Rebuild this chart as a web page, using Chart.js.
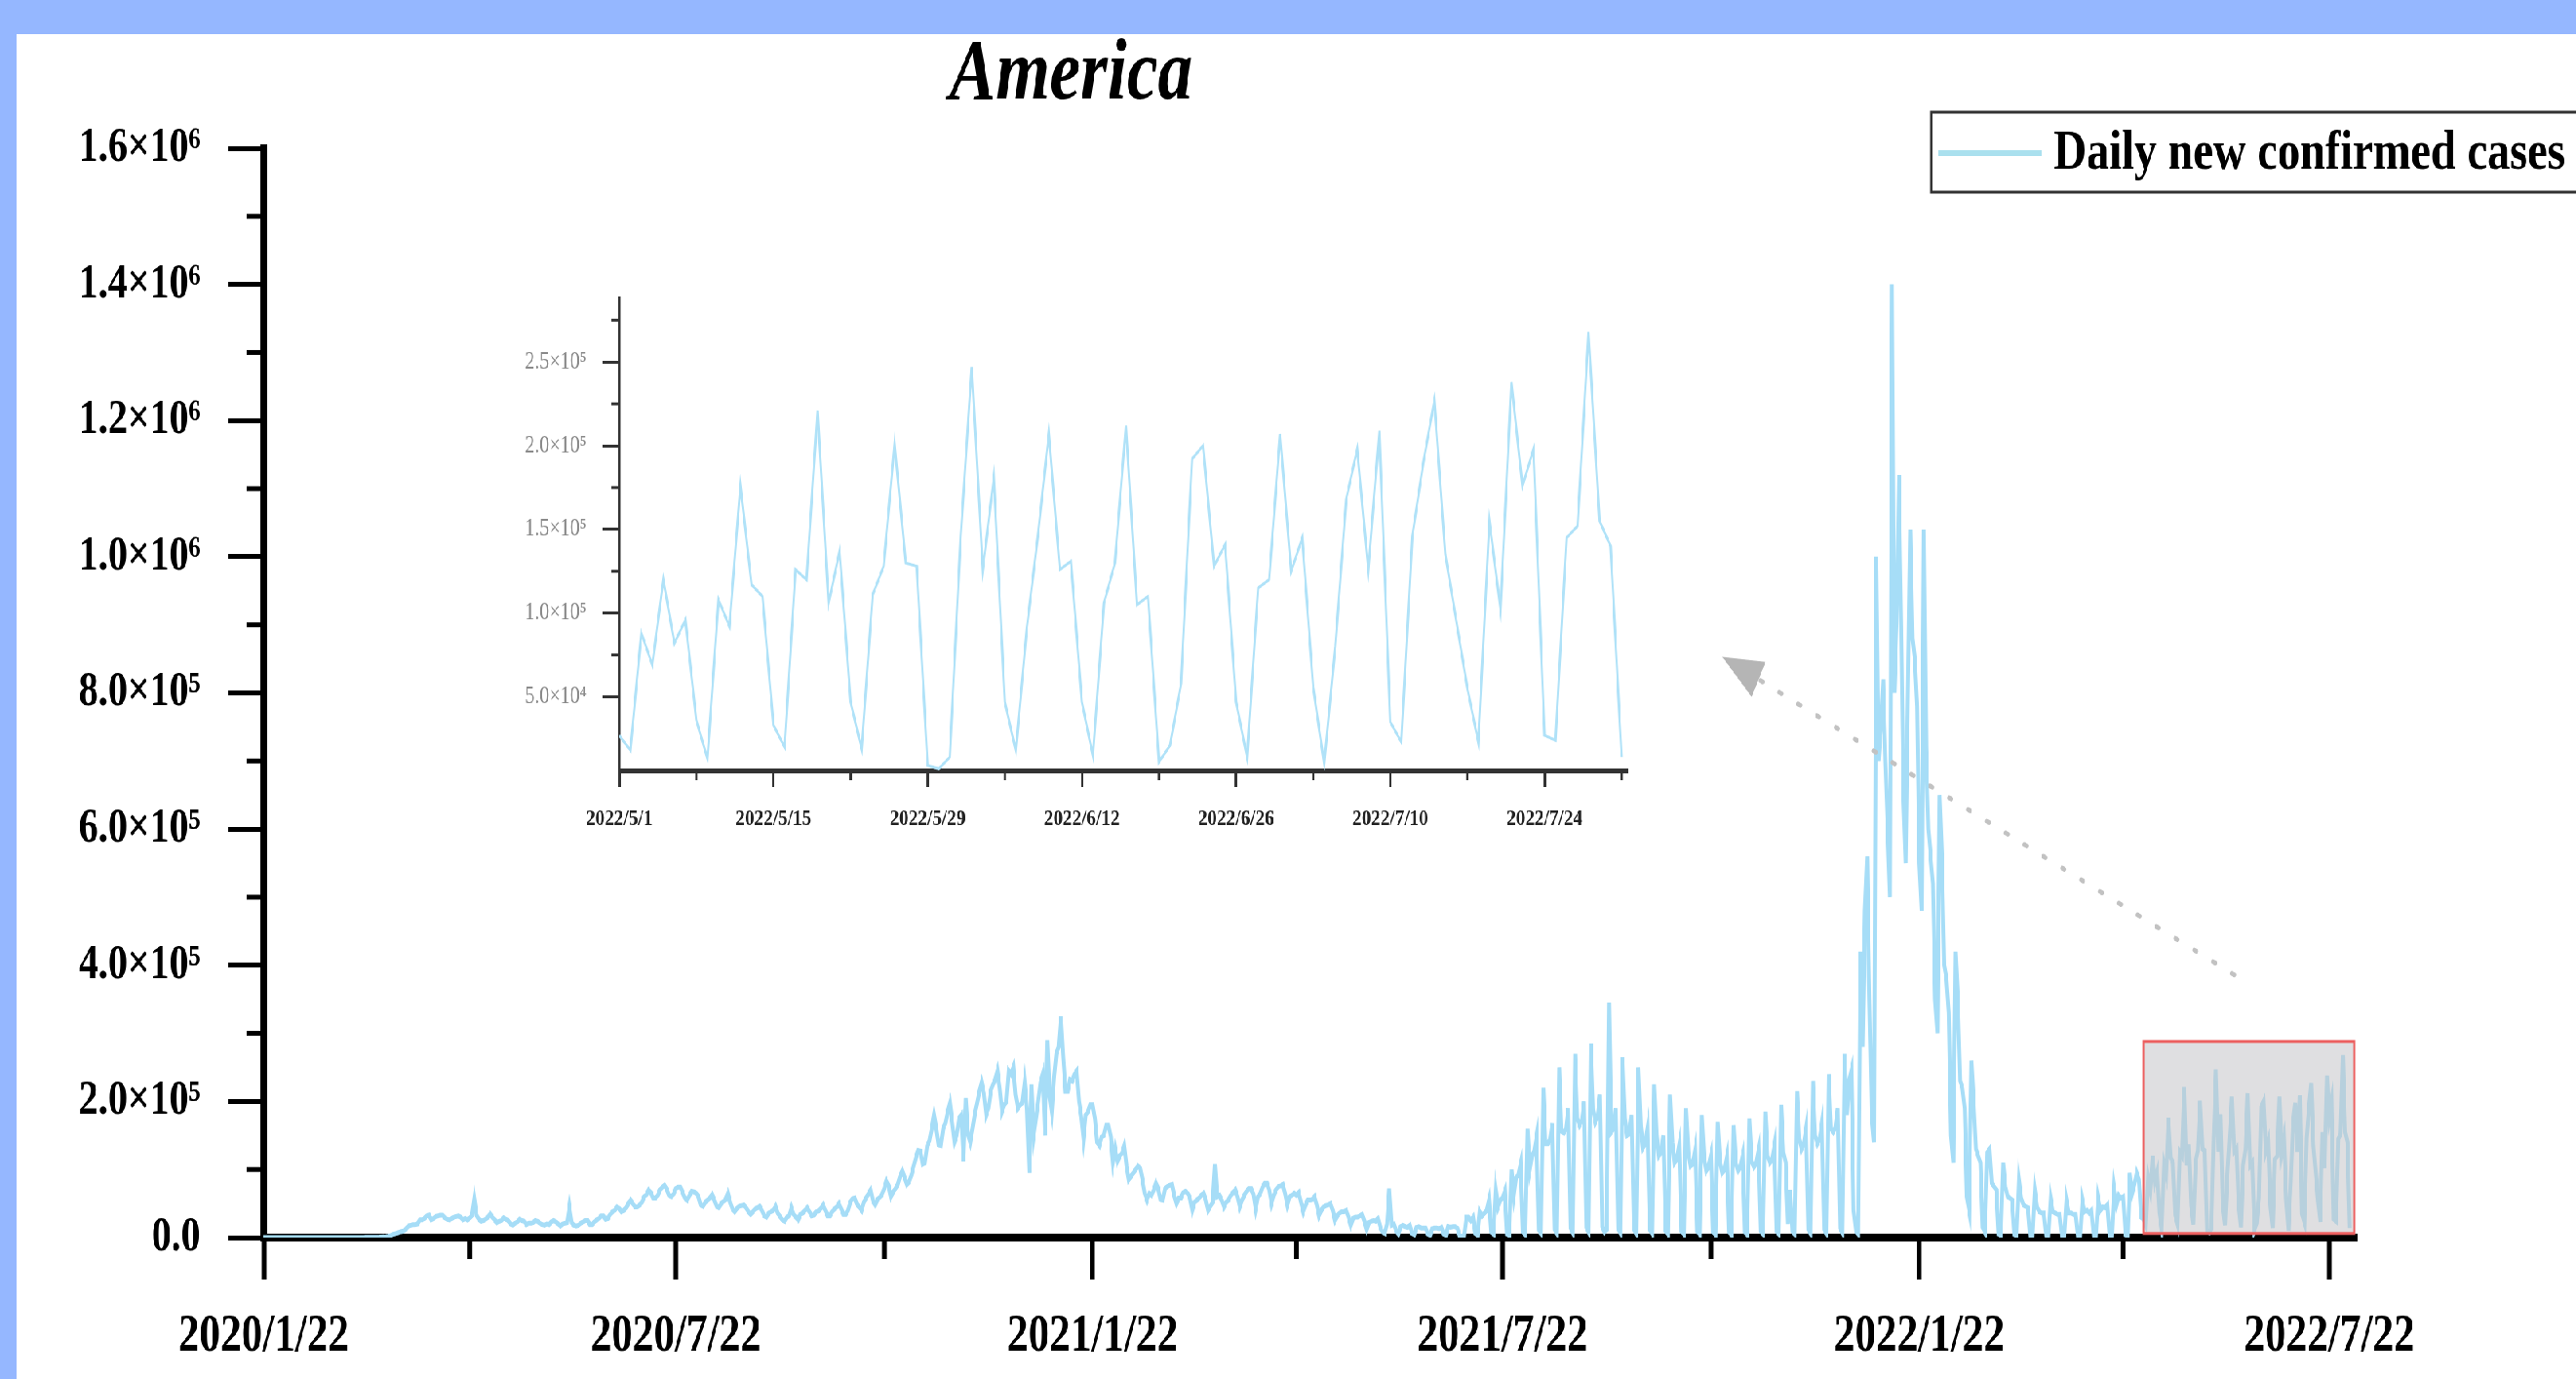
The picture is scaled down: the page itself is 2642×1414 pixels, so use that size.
<!DOCTYPE html>
<html>
<head>
<meta charset="utf-8">
<title>America - daily new confirmed cases</title>
<script src="https://cdn.jsdelivr.net/npm/chart.js@4.4.1/dist/chart.umd.min.js"></script>
<style>
  html, body { margin: 0; padding: 0; }
  body { width: 2642px; height: 1414px; position: relative; overflow: hidden; background: #95b7ff; }
  #paper { position: absolute; left: 17px; top: 35px; right: 0; bottom: 0; background: #fff; }
  /* the original figure is squeezed sideways, so draw wider and scale back */
  #stage { position: absolute; left: 0; top: 0; width: 3303px; height: 1414px; transform: scaleX(0.8); transform-origin: 0 0; }
  #stage canvas { position: absolute; }
</style>
</head>
<body>
<div id="paper"></div>
<div id="stage">
  <canvas id="grafico_america" width="3303" height="1414" style="left:0;top:0;width:3303px;height:1414px"></canvas>
  <canvas id="grafico_zoom" width="1500" height="620" style="left:600px;top:270px;width:1500px;height:620px"></canvas>
</div>
<script>
/* daily new confirmed cases (thousands), one row per week, 2020/1/22 .. 2022/4/30 */
const casesToApril = [
  0, 0, 0, 0, 0, 0, 0,            // 2020/1/22
  0, 0, 0, 0, 0, 0, 0,
  0, 0, 0, 0, 0, 0, 0,
  0, 0, 0, 0, 0, 0, 0,
  0, 0, 0, 0, 0, 0, 0,
  0, 0, 0, 0, 0, 0, 0.1,          // 2020/2/26
  0.1, 0.1, 0.1, 0.2, 0.2, 0.2, 0.3,
  0.4, 0.5, 0.6, 0.8, 0.9, 1.2, 1.7,
  2.5, 4.5, 5.5, 6.5, 8, 9, 10,   // 2020/3/18
  13, 17, 18, 19, 19, 20, 26,
  26, 28, 32, 33, 26, 28, 31,     // 2020/4/1
  32, 33, 33, 29, 27, 26, 28,
  30, 31, 32, 30, 26, 28, 26,
  29, 33, 57, 33, 27, 24, 25,
  27, 30, 35, 30, 26, 22, 24,     // 2020/4/29
  25, 29, 27, 25, 20, 18, 21,
  23, 27, 25, 24, 19, 21, 21,
  22, 25, 24, 21, 19, 18, 20,
  19, 23, 25, 23, 20, 17, 20,     // 2020/5/27
  21, 22, 45, 22, 18, 17, 18,
  21, 23, 25, 25, 19, 19, 23,
  26, 28, 32, 32, 27, 28, 34,
  38, 40, 45, 43, 38, 40, 44,     // 2020/6/24
  50, 55, 50, 45, 45, 48, 52,
  60, 63, 70, 66, 58, 58, 62,
  70, 74, 77, 71, 62, 60, 64,
  72, 74, 74, 66, 58, 55, 62,     // 2020/7/22
  68, 67, 65, 60, 48, 46, 52,
  55, 58, 63, 55, 46, 44, 50,
  53, 56, 65, 52, 42, 38, 43,
  46, 47, 48, 44, 38, 34, 38,     // 2020/8/19
  42, 44, 46, 40, 32, 30, 36,
  38, 40, 46, 36, 31, 26, 24,
  30, 32, 44, 34, 30, 26, 34,
  36, 40, 44, 38, 32, 33, 38,     // 2020/9/16
  39, 43, 48, 40, 32, 32, 38,
  42, 45, 50, 42, 34, 34, 40,
  52, 57, 58, 49, 45, 40, 52,
  58, 64, 70, 54, 48, 56, 59,     // 2020/10/14
  63, 72, 83, 76, 60, 67, 72,
  78, 90, 98, 88, 78, 82, 92,
  105, 118, 128, 127, 108, 110, 135,
  142, 160, 180, 160, 136, 135, 160,   // 2020/11/11
  168, 185, 198, 170, 140, 150, 175,
  180, 112, 205, 152, 140, 160, 182,
  198, 215, 228, 212, 180, 190, 215,
  225, 232, 245, 220, 185, 195, 200,   // 2020/12/9
  245, 240, 250, 210, 190, 195, 198,
  228, 190, 95, 225, 150, 175, 200,
  228, 240, 150, 290, 210, 185, 235,
  270, 280, 325, 265, 215, 215, 232,   // 2021/1/6
  230, 240, 245, 200, 178, 145, 180,
  185, 195, 195, 175, 140, 135, 148,
  150, 165, 165, 148, 110, 130, 112,
  120, 124, 135, 105, 85, 90, 95,      // 2021/2/3
  100, 105, 102, 85, 65, 55, 65,
  62, 70, 80, 72, 56, 55, 72,
  75, 77, 78, 62, 50, 58, 58,
  66, 68, 65, 58, 40, 52, 55,          // 2021/3/3
  58, 62, 65, 55, 40, 46, 52,
  108, 60, 62, 55, 45, 52, 55,
  62, 66, 70, 60, 45, 55, 62,
  68, 72, 72, 64, 42, 60, 64,          // 2021/3/31
  74, 80, 80, 70, 50, 62, 70,
  75, 76, 78, 65, 48, 60, 62,
  65, 62, 66, 52, 38, 48, 55,
  55, 56, 60, 48, 32, 40, 45,          // 2021/4/28
  47, 48, 50, 40, 25, 32, 36,
  38, 38, 40, 30, 18, 28, 30,
  30, 32, 34, 24, 12, 22, 24,
  25, 24, 28, 15, 8, 6, 20,            // 2021/5/26
  72, 18, 20, 10, 5, 16, 18,
  16, 15, 18, 6, 4, 15, 16,
  14, 14, 14, 5, 3, 13, 14,
  14, 13, 15, 5, 3, 16, 15,            // 2021/6/23
  16, 16, 14, 3, 2, 2, 30,
  30, 25, 30, 6, 3, 38, 32,
  36, 40, 55, 8, 5, 70, 45,
  55, 58, 68, 5, 3, 100, 62,           // 2021/7/21
  88, 92, 108, 8, 4, 160, 100,
  120, 127, 148, 11, 6, 220, 138,
  138, 144, 168, 12, 6, 250, 156,
  154, 160, 190, 14, 7, 270, 175,      // 2021/8/18
  165, 172, 200, 15, 8, 285, 188,
  170, 178, 210, 16, 8, 12, 345,
  155, 160, 190, 14, 7, 265, 175,
  150, 152, 180, 13, 6, 250, 165,      // 2021/9/15
  132, 138, 160, 12, 6, 225, 150,
  120, 125, 150, 10, 5, 210, 140,
  110, 115, 135, 9, 5, 190, 125,
  105, 108, 128, 9, 5, 180, 118,       // 2021/10/13
  98, 104, 120, 8, 4, 170, 112,
  95, 100, 118, 8, 4, 165, 110,
  98, 104, 120, 8, 4, 175, 112,
  104, 110, 128, 9, 5, 185, 120,       // 2021/11/10
  110, 115, 135, 9, 5, 195, 125,
  110, 20, 70, 9, 5, 215, 145,
  130, 138, 160, 12, 6, 230, 150,
  138, 145, 168, 12, 6, 240, 160,      // 2021/12/8
  155, 162, 190, 14, 7, 270, 180,
  230, 245, 40, 10, 5, 420, 280,
  480, 560, 350, 180, 140, 1000, 700,
  750, 820, 700, 600, 500, 1400, 800,  // 2022/1/5
  900, 1120, 900, 650, 550, 800, 1040,
  880, 850, 780, 550, 480, 1040, 720,
  600, 560, 520, 350, 300, 650, 560,
  400, 380, 330, 150, 110, 420, 350,   // 2022/2/2
  230, 220, 190, 60, 40, 260, 200,
  130, 120, 110, 15, 8, 125, 130,
  80, 75, 70, 5, 3, 110, 75,
  60, 58, 55, 4, 2, 85, 58,            // 2022/3/2
  48, 46, 44, 3, 2, 70, 45,
  38, 36, 36, 3, 1, 58, 38,
  36, 34, 34, 2, 1, 55, 36,
  36, 34, 34, 2, 1, 55, 38,            // 2022/3/30
  40, 36, 40, 3, 1, 58, 40,
  45, 44, 48, 3, 2, 72, 48,
  62, 58, 60, 4, 2, 95, 65,
  78, 95, 85, 30                       // 2022/4/27
];

/* 2022/5/1 .. 2022/7/31 (thousands), shown again in the zoomed panel */
const casesMayJuly = [
  27, 18, 88, 69, 120, 82, 96,
  36, 13, 108, 92, 176, 117, 110,
  33, 20, 126, 120, 221, 106, 137,
  47, 19, 111, 128, 201, 130, 128,
  9, 7, 14, 146, 247, 126, 181,
  47, 18, 91, 146, 207, 126, 131,
  47, 15, 106, 130, 212, 105, 110,
  11, 21, 58, 192, 200, 128, 141,
  47, 14, 115, 120, 207, 125, 145,
  56, 10, 80, 168, 198, 126, 209,
  35, 23, 146, 190, 227, 135, 95,
  55, 23, 155, 102, 238, 176, 198,
  27, 24, 145, 152, 268, 155, 140,
  14
];

// main axis: days counted from 2020/1/22
const xTickDays = [0, 182, 366, 547, 731, 912];
const xTickLabels = ['2020/1/22', '2020/7/22', '2021/1/22', '2021/7/22', '2022/1/22', '2022/7/22'];
const xMinorDays = [91, 274, 456, 639, 821];
const yTickValues = [0, 200000, 400000, 600000, 800000, 1000000, 1200000, 1400000, 1600000];
const yTickLabels = ['0.0', '2.0×10⁵', '4.0×10⁵', '6.0×10⁵', '8.0×10⁵', '1.0×10⁶', '1.2×10⁶', '1.4×10⁶', '1.6×10⁶'];
const yMinorValues = [100000, 300000, 500000, 700000, 900000, 1100000, 1300000, 1500000];

// zoomed panel axis: days counted from 2022/5/1
const zoomTickDays = [0, 14, 28, 42, 56, 70, 84];
const zoomTickLabels = ['2022/5/1', '2022/5/15', '2022/5/29', '2022/6/12', '2022/6/26', '2022/7/10', '2022/7/24'];
const zoomMinorDays = [7, 21, 35, 49, 63, 77, 91];
const zoomYValues = [50000, 100000, 150000, 200000, 250000];
const zoomYLabels = ['5.0×10⁴', '1.0×10⁵', '1.5×10⁵', '2.0×10⁵', '2.5×10⁵'];
const zoomYMinor = [75000, 125000, 175000, 225000, 275000];
const zoomYMin = 6000;
const zoomYMax = 288000;

// annotation: highlighted window and dotted arrow (data coordinates)
const zoomFromDay = casesToApril.length;
const zoomToDay = 923;
const arrowFrom = [870, 386000];
const arrowTo = [644, 853000];

const lineColor = 'rgb(166, 221, 247)';
const serif = '"Liberation Serif", "Times New Roman", serif';

var cases = casesToApril.concat(casesMayJuly).map(function (v) { return v * 1000; });
var days = cases.map(function (v, i) { return i; });
var zoomCases = casesMayJuly.map(function (v) { return v * 1000; });
var zoomDays = zoomCases.map(function (v, i) { return i; });

function pickLabel(values, labels) {
    return function (value) {
        var i = values.indexOf(value);
        return i >= 0 ? labels[i] : '';
    };
}

/* small ticks between the labelled ones */
const minorTicks = {
    id: 'minorTicks',
    afterDraw(chart, args, opts) {
        var ctx = chart.ctx;
        var area = chart.chartArea;
        var x = chart.scales.x;
        var y = chart.scales.y;
        ctx.save();
        ctx.strokeStyle = opts.color;
        ctx.lineWidth = opts.xWidth;
        opts.xValues.forEach(function (v) {
            var px = x.getPixelForValue(v);
            ctx.beginPath();
            ctx.moveTo(px, area.bottom);
            ctx.lineTo(px, area.bottom + opts.xLength);
            ctx.stroke();
        });
        ctx.lineWidth = opts.yWidth;
        opts.yValues.forEach(function (v) {
            var py = y.getPixelForValue(v);
            ctx.beginPath();
            ctx.moveTo(area.left, py);
            ctx.lineTo(area.left - opts.yLength, py);
            ctx.stroke();
        });
        ctx.restore();
    }
};

/* title, legend box, highlighted window and arrow of the main chart */
const extras = {
    id: 'extras',
    afterDatasetsDraw(chart) {
        var ctx = chart.ctx;
        var x = chart.scales.x;
        var y = chart.scales.y;
        var left = x.getPixelForValue(zoomFromDay);
        var right = x.getPixelForValue(zoomToDay);
        var top = y.getPixelForValue(zoomYMax);
        var bottom = y.getPixelForValue(zoomYMin);
        ctx.save();
        ctx.fillStyle = 'rgba(196, 196, 200, 0.55)';
        ctx.fillRect(left, top, right - left, bottom - top);
        ctx.strokeStyle = 'rgb(236, 96, 96)';
        ctx.lineWidth = 3;
        ctx.strokeRect(left, top, right - left, bottom - top);

        var x0 = x.getPixelForValue(arrowFrom[0]), y0 = y.getPixelForValue(arrowFrom[1]);
        var x1 = x.getPixelForValue(arrowTo[0]), y1 = y.getPixelForValue(arrowTo[1]);
        var ang = Math.atan2(y1 - y0, x1 - x0);
        var headLen = 52, headHalf = 20;
        var bx = x1 - headLen * Math.cos(ang), by = y1 - headLen * Math.sin(ang);
        ctx.strokeStyle = '#c2c2c2';
        ctx.lineWidth = 5;
        ctx.lineCap = 'round';
        ctx.setLineDash([3, 24]);
        ctx.beginPath();
        ctx.moveTo(x0, y0);
        ctx.lineTo(bx, by);
        ctx.stroke();
        ctx.setLineDash([]);
        ctx.fillStyle = '#b5b5b5';
        ctx.beginPath();
        ctx.moveTo(x1, y1);
        ctx.lineTo(bx + headHalf * Math.sin(ang), by - headHalf * Math.cos(ang));
        ctx.lineTo(bx - headHalf * Math.sin(ang), by + headHalf * Math.cos(ang));
        ctx.closePath();
        ctx.fill();
        ctx.restore();
    },
    afterDraw(chart) {
        var ctx = chart.ctx;
        ctx.save();
        ctx.fillStyle = '#000';
        ctx.font = 'italic bold 89px ' + serif;
        ctx.textAlign = 'center';
        ctx.textBaseline = 'middle';
        ctx.fillText('America', 1373, 78);

        ctx.strokeStyle = '#333';
        ctx.lineWidth = 3;
        ctx.strokeRect(2476, 115, 900, 82);
        ctx.strokeStyle = 'rgb(170, 224, 238)';
        ctx.lineWidth = 6;
        ctx.beginPath();
        ctx.moveTo(2485, 157);
        ctx.lineTo(2618, 157);
        ctx.stroke();
        ctx.fillStyle = '#000';
        ctx.font = 'bold 58px ' + serif;
        ctx.textAlign = 'left';
        ctx.fillText(chart.data.datasets[0].label, 2633, 158);
        ctx.restore();
    }
};

const grafico_america = new Chart(document.getElementById('grafico_america'), {
    type: 'line',
    data: {
        labels: days,
        datasets: [{
            label: 'Daily new confirmed cases',
            data: cases,
            borderColor: lineColor,
            borderWidth: 5,
            pointRadius: 0,
            tension: 0
        }]
    },
    options: {
        responsive: false,
        animation: false,
        events: [],
        layout: { padding: { top: 152, right: 282, left: 0, bottom: 0 } },
        plugins: {
            legend: { display: false },
            tooltip: { enabled: false },
            minorTicks: { color: '#000', xValues: xMinorDays, xLength: 22, xWidth: 6, yValues: yMinorValues, yLength: 22, yWidth: 5 }
        },
        scales: {
            x: {
                type: 'linear',
                min: 0,
                max: 924,
                afterBuildTicks: function (s) { s.ticks = xTickDays.map(function (v) { return { value: v }; }); },
                afterFit: function (s) { s.height = 145; },
                grid: { drawOnChartArea: false, tickLength: 43, tickWidth: 6, tickColor: '#000' },
                border: { display: true, color: '#000', width: 8 },
                ticks: {
                    autoSkip: false, maxRotation: 0, padding: 27, color: '#000',
                    font: { family: serif, size: 54, weight: 'bold' },
                    callback: pickLabel(xTickDays, xTickLabels)
                }
            },
            y: {
                min: 0,
                max: 1600000,
                afterBuildTicks: function (s) { s.ticks = yTickValues.map(function (v) { return { value: v }; }); },
                afterFit: function (s) { s.width = 338; },
                grid: { drawOnChartArea: false, tickLength: 46, tickWidth: 5, tickColor: '#000' },
                border: { display: true, color: '#000', width: 9 },
                ticks: {
                    padding: 35, color: '#000',
                    font: { family: serif, size: 50, weight: 'bold' },
                    callback: pickLabel(yTickValues, yTickLabels)
                }
            }
        }
    },
    plugins: [minorTicks, extras]
});

const grafico_zoom = new Chart(document.getElementById('grafico_zoom'), {
    type: 'line',
    data: {
        labels: zoomDays,
        datasets: [{
            label: 'Daily new confirmed cases',
            data: zoomCases,
            borderColor: 'rgb(176, 226, 248)',
            borderWidth: 3,
            pointRadius: 0,
            tension: 0
        }]
    },
    options: {
        responsive: false,
        animation: false,
        events: [],
        layout: { padding: { top: 30, right: 14, left: 0, bottom: 0 } },
        plugins: {
            legend: { display: false },
            tooltip: { enabled: false },
            minorTicks: { color: '#333', xValues: zoomMinorDays, xLength: 10, xWidth: 3, yValues: zoomYMinor, yLength: 10, yWidth: 3 }
        },
        scales: {
            x: {
                type: 'linear',
                min: 0,
                max: 91.5,
                afterBuildTicks: function (s) { s.ticks = zoomTickDays.map(function (v) { return { value: v }; }); },
                afterFit: function (s) { s.height = 100; },
                grid: { drawOnChartArea: false, tickLength: 17, tickWidth: 3, tickColor: '#333' },
                border: { display: true, color: '#333', width: 5 },
                ticks: {
                    autoSkip: false, maxRotation: 0, padding: 18, color: '#222',
                    font: { family: serif, size: 24, weight: 'bold' },
                    callback: pickLabel(zoomTickDays, zoomTickLabels)
                }
            },
            y: {
                min: zoomYMin,
                max: zoomYMax,
                afterBuildTicks: function (s) { s.ticks = zoomYValues.map(function (v) { return { value: v }; }); },
                afterFit: function (s) { s.width = 194; },
                grid: { drawOnChartArea: false, tickLength: 21, tickWidth: 3, tickColor: '#333' },
                border: { display: true, color: '#333', width: 3.5 },
                ticks: {
                    padding: 21, color: '#8a8a8a',
                    font: { family: serif, size: 25 },
                    callback: pickLabel(zoomYValues, zoomYLabels)
                }
            }
        }
    },
    plugins: [minorTicks]
});
</script>
</body>
</html>
